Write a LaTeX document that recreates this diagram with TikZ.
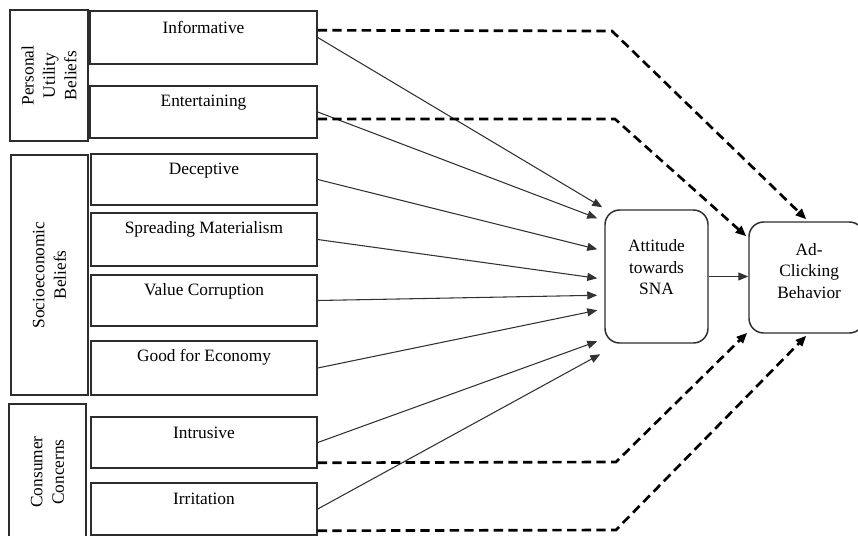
\documentclass[tikz,border=0pt]{standalone}
\usepackage{fontspec}
\setmainfont{Liberation Serif}
\usetikzlibrary{fit,calc,arrows.meta}

\definecolor{edge}{RGB}{45,45,45}
\definecolor{wire}{RGB}{50,50,50}

\tikzset{
  txt/.style={font=\fontsize{13pt}{16pt}\selectfont, text=black, align=center},
  group/.style={draw=edge, line width=1.1pt, inner sep=0pt},
  item/.style={draw=edge, line width=1.1pt, inner sep=0pt},
  hub/.style={draw=edge, line width=1.1pt, inner sep=0pt, rounded corners=11pt},
  itemtext/.style={label={[txt, anchor=center, yshift=-12.75pt]north:#1}},
  grouptext/.style={label={[txt, rotate=90, anchor=center]center:#1}},
  direct/.style={draw=wire, line width=0.8pt, -{Triangle[length=7.5pt,width=6pt]}},
  indirect/.style={draw=black, line width=2pt, dash pattern=on 7pt off 4pt,
                   -{Triangle[length=8pt,width=6.5pt]}},
}

\begin{document}
\begin{tikzpicture}[x=0.75pt,y=-0.75pt]
  \useasboundingbox (0,0) rectangle (858,536);

  % belief groups
  \node[group, fit={(10,10)(88,141)}, grouptext={Personal\\Utility\\Beliefs}] (pub) {};
  \node[group, fit={(11,155)(88,395)}, grouptext={Socioeconomic\\Beliefs}] (seb) {};
  \node[group, fit={(9,404)(86,540)}, grouptext={Consumer\\Concerns}] (cc) {};

  % belief items
  \node[item, fit={(90,11)(317,64)},   itemtext=Informative] (inf) {};
  \node[item, fit={(90,86)(317,138)},  itemtext=Entertaining] (ent) {};
  \node[item, fit={(91,154)(317,205)}, itemtext=Deceptive] (dec) {};
  \node[item, fit={(91,213)(317,266)}, itemtext={Spreading Materialism}] (spr) {};
  \node[item, fit={(91,275)(317,326)}, itemtext={Value Corruption}] (val) {};
  \node[item, fit={(91,341)(317,395)}, itemtext={Good for Economy}] (eco) {};
  \node[item, fit={(91,417)(317,468)}, itemtext=Intrusive] (intr) {};
  \node[item, fit={(91,483)(317,535)}, itemtext=Irritation] (irr) {};

  % outcome nodes
  \node[hub, fit={(605,210)(708,343)},
        label={[txt, anchor=center, yshift=7pt]center:Attitude\\towards\\SNA}] (att) {};
  \node[hub, fit={(749,222)(864,333)},
        label={[txt, anchor=center, xshift=2pt, yshift=5pt]center:Ad-\\Clicking\\Behavior}] (ad) {};

  % direct paths into the attitude node
  \draw[direct] (inf.east)  -- ($(att.north west)+(-2,-2)$);
  \draw[direct] (ent.east)  -- ($(att.north west)+(-7,9)$);
  \draw[direct] (dec.east)  -- ($(att.north west)+(-7,40)$);
  \draw[direct] (spr.east)  -- ($(att.north west)+(-7,69)$);
  \draw[direct] (val.east)  -- ($(att.north west)+(-7,86)$);
  \draw[direct] (eco.east)  -- ($(att.north west)+(-7,101)$);
  \draw[direct] (intr.east) -- ($(att.north west)+(-7,132)$);
  \draw[direct] (irr.east)  -- ($(att.north west)+(-4,145)$);

  % attitude to behaviour
  \draw[direct] (att.east) -- (att.east -| ad.west);

  % bend points of the dashed paths
  \coordinate (b1) at (612,31);
  \coordinate (b2) at (615,119);
  \coordinate (b3) at (616,462);
  \coordinate (b4) at (616,530);

  % dashed paths straight to behaviour
  \draw[indirect] ($(inf.north east)+(0,20)$) -- (b1) -- ($(ad.north west)+(58,-2)$);
  \draw[indirect] ($(ent.east)+(0,7)$)        -- (b2) -- ($(ad.north west)+(-2,15)$);
  \draw[indirect] ($(intr.south east)+(0,-6)$) -- (b3) -- ($(ad.south west)+(-1,-1)$);
  \draw[indirect] ($(irr.south east)+(0,-5)$)  -- (b4) -- ($(ad.south west)+(58,2)$);
\end{tikzpicture}
\end{document}
